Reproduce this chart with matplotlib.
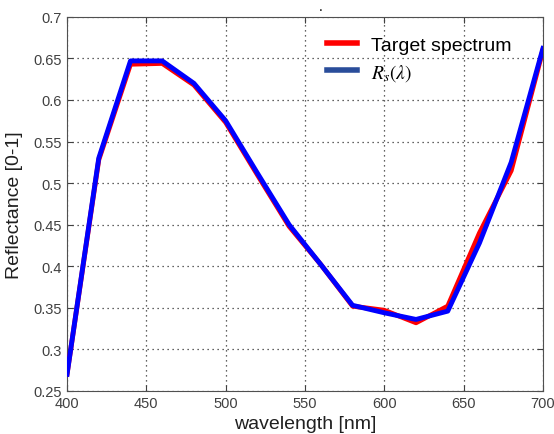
import matplotlib
matplotlib.use("Agg")
import matplotlib.pyplot as plt

wavelength = [400, 420, 440, 460, 480, 500, 520, 540, 560, 580, 600, 620, 640, 660, 680, 700]
target = [0.27, 0.528, 0.643, 0.644, 0.618, 0.573, 0.51, 0.448, 0.402, 0.352, 0.347, 0.332, 0.352, 0.44, 0.515, 0.66]
rs = [0.27, 0.53, 0.647, 0.647, 0.62, 0.575, 0.512, 0.45, 0.402, 0.353, 0.344, 0.336, 0.346, 0.428, 0.525, 0.662]
xticks = [400, 450, 500, 550, 600, 650, 700]
yticks = [0.25, 0.3, 0.35, 0.4, 0.45, 0.5, 0.55, 0.6, 0.65, 0.7]

plt.rcParams['font.family'] = ['Liberation Sans', 'DejaVu Sans']
plt.rcParams['mathtext.fontset'] = 'stix'
fig = plt.figure(figsize=(5.54, 4.35), dpi=100)
ax = fig.add_axes([0.121, 0.099, 0.859, 0.860])
ax.plot(wavelength, target, color='#ff0000', lw=3.5, label='Target spectrum', zorder=3)
ax.plot(wavelength, rs, color='#0000ff', lw=3.5, label=r'$R_s(\lambda)$', zorder=4)
ax.set_xlim(400, 700)
ax.set_ylim(0.25, 0.7)
ax.set_xticks(xticks)
ax.set_yticks(yticks)
ax.set_yticklabels([f"{v:g}" for v in yticks])
ax.tick_params(direction='in', top=True, right=True, labelsize=10.5, colors='#404040', labelcolor='#404040', length=4)
for s in ax.spines.values():
    s.set_color('#505050')
ax.grid(True, linestyle=(0, (1, 3)), color='#303030', linewidth=0.9)
ax.set_xlabel('wavelength [nm]', fontsize=14, color='#202020', labelpad=4)
ax.set_ylabel('Reflectance [0-1]', fontsize=14, color='#202020', labelpad=8)
leg = ax.legend(loc='upper left', bbox_to_anchor=(0.51, 0.995), frameon=False,
                prop={'size': 14}, handlelength=1.55, handletextpad=0.7, labelspacing=0.4)
for h in leg.get_lines():
    h.set_linewidth(4)
leg.get_lines()[1].set_color('#2a4d9a')
fig.text(0.578, 0.985, '.', ha='center', va='center', fontsize=10)
fig.savefig('out.png', dpi=100)
